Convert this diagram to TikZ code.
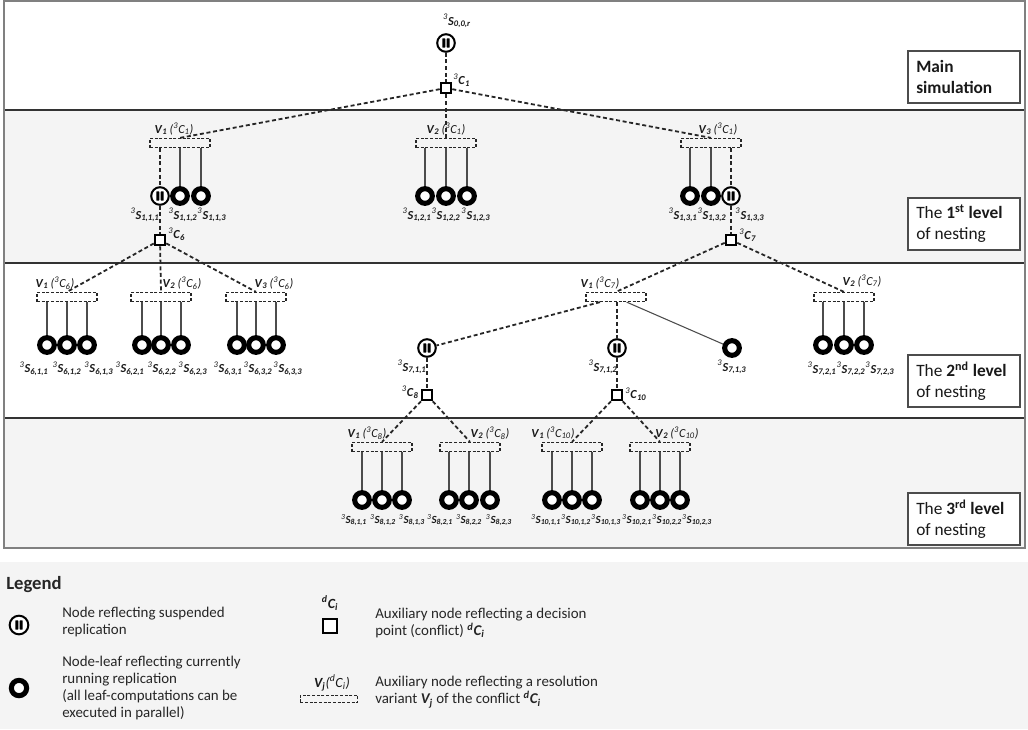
\documentclass[tikz,border=0pt]{standalone}
\usepackage{fontspec}
\setmainfont{Carlito}
\newcommand{\SLab}[1]{\textsuperscript{\itshape 3}\textbf{\textit{S}\textsubscript{\textit{#1}}}}
\newcommand{\CLab}[1]{\textsuperscript{\itshape 3}\textbf{\textit{C}\textsubscript{\textit{#1}}}}
\newcommand{\VLab}[2]{\textbf{\textit{V}\textsubscript{\textit{#1}}}\,\textit{(\textsuperscript{3}C\textsubscript{#2})}}
\begin{document}
\begin{tikzpicture}[x=0.75pt,y=-0.75pt,
  dl/.style={draw=black!85, line width=1.35pt, dash pattern=on 3pt off 2pt},
  sl/.style={draw=black!70, line width=0.8pt},
  leaf/.style={circle, draw=black, fill=white, line width=3.8pt, minimum size=11pt, inner sep=0pt},
  pause/.style={circle, draw=black, fill=white, line width=1.5pt, minimum size=13.2pt, inner sep=0pt,
    path picture={
      \fill[black, rounded corners=0.4pt] ([shift={(-2.8pt,-3.5pt)}]path picture bounding box.center) rectangle ([shift={(-0.5pt,3.5pt)}]path picture bounding box.center);
      \fill[black, rounded corners=0.4pt] ([shift={(0.5pt,-3.5pt)}]path picture bounding box.center) rectangle ([shift={(2.8pt,3.5pt)}]path picture bounding box.center);
    }},
  csq/.style={rectangle, draw=black, fill=white, line width=1.6pt, minimum size=7.8pt, inner sep=0pt},
  vb/.style={rectangle, draw=black!85, line width=0.9pt, dash pattern=on 2.2pt off 1.3pt, minimum width=45pt, minimum height=6.8pt, inner sep=0pt},
  lab/.style={font=\fontsize{9.2}{10}\selectfont, inner sep=0pt, text=black!90},
  slab/.style={font=\fontsize{8.2}{9}\selectfont, inner sep=0pt, text=black!90},
  rbox/.style={rectangle, draw=black!70, fill=white, line width=0.8pt, minimum width=84pt, minimum height=39pt, inner sep=0pt},
  rtext/.style={font=\fontsize{13}{16}\selectfont, align=left, anchor=west, inner sep=0pt, text=black!90},
  legtext/.style={font=\fontsize{11.2}{12.9}\selectfont, align=left, anchor=west, inner sep=0pt, text=black!85}
]
\useasboundingbox (0,0) rectangle (1028,729);
% bands
\fill[gray!9] (4,110) rectangle (1025,263);
\fill[gray!9] (4,418) rectangle (1025,548);
\draw[black!80, line width=1.1pt] (4,110) -- (1025,110);
\draw[black!80, line width=1.1pt] (4,263) -- (1025,263);
\draw[black!80, line width=1.1pt] (4,418) -- (1025,418);
\draw[black!50, line width=1.4pt] (4,1) rectangle (1025,548);

% right labels
\node[rbox] (rb0) at (964,77) {};
\node[rtext] (rt0) at (916,77) {\textbf{Main}\\\textbf{simulation}};
\node[rbox] (rb1) at (964,224) {};
\node[rtext] (rt1) at (916,224) {The \textbf{1\textsuperscript{st} level}\\of nesting};
\node[rbox] (rb2) at (964,381) {};
\node[rtext] (rt2) at (916,381) {The \textbf{2\textsuperscript{nd} level}\\of nesting};
\node[rbox] (rb3) at (964,519) {};
\node[rtext] (rt3) at (916,519) {The \textbf{3\textsuperscript{rd} level}\\of nesting};

% top
\node[pause] (s0) at (446,43) {};
\node[lab] (s0l) at (457,21) {\SLab{0,0,r}};
\node[csq] (c1) at (446,88) {};
\node[lab, anchor=west] (c1l) at (453,80) {\CLab{1}};

% level 1
\node[vb] (v11) at (180,143) {};
\node[lab] (v11l) at (174,129) {\VLab{1}{1}};
\node[vb] (v12) at (446,143) {};
\node[lab] (v12l) at (446,129) {\VLab{2}{1}};
\node[vb] (v13) at (711,143) {};
\node[lab] (v13l) at (718,129) {\VLab{3}{1}};

\node[pause] (s111) at (160,196) {};
\node[leaf] (s112) at (180,196) {};
\node[leaf] (s113) at (201,196) {};
\node[lab] (s111l) at (145,215) {\SLab{1,1,1}};
\node[lab] (s112l) at (183,215) {\SLab{1,1,2}};
\node[lab] (s113l) at (212,215) {\SLab{1,1,3}};

\node[leaf] (s121) at (425,196) {};
\node[leaf] (s122) at (446,196) {};
\node[leaf] (s123) at (467,196) {};
\node[lab] (s121l) at (417,215) {\SLab{1,2,1}};
\node[lab] (s122l) at (446,215) {\SLab{1,2,2}};
\node[lab] (s123l) at (476,215) {\SLab{1,2,3}};

\node[leaf] (s131) at (690,196) {};
\node[leaf] (s132) at (711,196) {};
\node[pause] (s133) at (731,196) {};
\node[lab] (s131l) at (683,215) {\SLab{1,3,1}};
\node[lab] (s132l) at (712,215) {\SLab{1,3,2}};
\node[lab] (s133l) at (750,215) {\SLab{1,3,3}};

\node[csq] (c6) at (160,240) {};
\node[lab, anchor=west] (c6l) at (168,234) {\CLab{6}};
\node[csq] (c7) at (731,240) {};
\node[lab, anchor=west] (c7l) at (739,235) {\CLab{7}};

% level 2
\node[vb] (v61) at (67,297) {};
\node[lab] (v61l) at (55,283) {\VLab{1}{6}};
\node[vb] (v62) at (161,297) {};
\node[lab] (v62l) at (182,283) {\VLab{2}{6}};
\node[vb] (v63) at (256,297) {};
\node[lab] (v63l) at (274,283) {\VLab{3}{6}};
\node[vb] (v71) at (616,297) {};
\node[lab] (v71l) at (600,283) {\VLab{1}{7}};
\node[vb] (v72) at (844,297) {};
\node[lab] (v72l) at (862,281) {\VLab{2}{7}};

\foreach \b/\n/\t/\x/\lx in {v61/611/{6,1,1}/47/34, v61/612/{6,1,2}/67/67, v61/613/{6,1,3}/87/99,
  v62/621/{6,2,1}/142/130, v62/622/{6,2,2}/161/162, v62/623/{6,2,3}/181/193,
  v63/631/{6,3,1}/237/228, v63/632/{6,3,2}/256/258, v63/633/{6,3,3}/276/288,
  v72/721/{7,2,1}/823/822, v72/722/{7,2,2}/844/851, v72/723/{7,2,3}/864/880}{
  \node[leaf] (s\n) at (\x,345) {};
  \node[lab] (s\n l) at (\lx,369) {\SLab{\t}};
  \draw[sl] (\b.south -| s\n) -- (s\n);
}

\node[pause] (s711) at (427,348) {};
\node[pause] (s712) at (617,348) {};
\node[leaf] (s713) at (732,348) {};
\node[lab] (s711l) at (412,367) {\SLab{7,1,1}};
\node[lab] (s712l) at (603,367) {\SLab{7,1,2}};
\node[lab] (s713l) at (732,367) {\SLab{7,1,3}};
\node[csq] (c8) at (427,395) {};
\node[lab, anchor=east] (c8l) at (419,392) {\CLab{8}};
\node[csq] (c10) at (617,395) {};
\node[lab, anchor=west] (c10l) at (625,394) {\CLab{10}};

% level 3
\node[vb] (v81) at (382,447) {};
\node[lab] (v81l) at (367,433) {\VLab{1}{8}};
\node[vb] (v82) at (470,447) {};
\node[lab] (v82l) at (490,433) {\VLab{2}{8}};
\node[vb] (v101) at (572,447) {};
\node[lab] (v101l) at (553,433) {\VLab{1}{10}};
\node[vb] (v102) at (660,447) {};
\node[lab] (v102l) at (677,433) {\VLab{2}{10}};

% connectors
\draw[dl] (s0) -- (c1);
\draw[dl] (c1) -- (v11.north);
\draw[dl] (c1) -- (v12.north);
\draw[dl] (c1) -- (v13.north);
\draw[dl] (v11.south -| s111) -- (s111);
\draw[sl] (v11.south -| s112) -- (s112);
\draw[sl] (v11.south -| s113) -- (s113);
\draw[sl] (v12.south -| s121) -- (s121);
\draw[sl] (v12.south -| s122) -- (s122);
\draw[sl] (v12.south -| s123) -- (s123);
\draw[sl] (v13.south -| s131) -- (s131);
\draw[sl] (v13.south -| s132) -- (s132);
\draw[dl] (v13.south -| s133) -- (s133);
\draw[dl] (s111) -- (c6);
\draw[dl] (s133) -- (c7);
\draw[dl] (c6) -- (v61.north);
\draw[dl] (c6) -- (v62.north);
\draw[dl] (c6) -- (v63.north);
\draw[dl] (c7) -- (v71.north);
\draw[dl] (c7) -- (v72.north);
\draw[dl] ([xshift=-12pt]v71.south) -- (s711);
\draw[dl] (v71.south -| s712) -- (s712);
\draw[sl] ([xshift=8pt]v71.south) -- (s713);
\draw[dl] (s711) -- (c8);
\draw[dl] (s712) -- (c10);
\draw[dl] (c8) -- (v81.north);
\draw[dl] (c8) -- (v82.north);
\draw[dl] (c10) -- (v101.north);
\draw[dl] (c10) -- (v102.north);

\foreach \b/\n/\t/\x/\lx in {v81/811/{8,1,1}/362/354, v81/812/{8,1,2}/382/383, v81/813/{8,1,3}/402/412,
  v82/821/{8,2,1}/449/440, v82/822/{8,2,2}/469/469, v82/823/{8,2,3}/490/499,
  v101/1011/{10,1,1}/552/546, v101/1012/{10,1,2}/572/576, v101/1013/{10,1,3}/592/606,
  v102/1021/{10,2,1}/640/637, v102/1022/{10,2,2}/660/667, v102/1023/{10,2,3}/680/697}{
  \node[leaf] (s\n) at (\x,500) {};
  \node[slab] (s\n l) at (\lx,520) {\SLab{\t}};
  \draw[sl] (\b.south -| s\n) -- (s\n);
}

% legend
\fill[gray!9] (0,562) rectangle (1028,729);
\node[font=\fontsize{14}{16}\selectfont\bfseries, anchor=west, inner sep=0pt, text=black!85] (legh) at (6,585) {Legend};
\node[pause, minimum size=14pt] (lp) at (19,625) {};
\node[leaf, minimum size=11.5pt] (ll) at (19,688) {};
\node[legtext] (lpt) at (62,622) {Node reflecting suspended\\replication};
\node[legtext] (llt) at (62,688) {Node-leaf reflecting currently\\running replication\\(all leaf-computations can be\\executed in parallel)};
\node[lab, font=\fontsize{10.5}{11}\selectfont] (lcl) at (330,603) {\textbf{\textit{\textsuperscript{d}C\textsubscript{i}}}};
\node[csq, minimum size=10pt] (lc) at (330,626) {};
\node[legtext] (lct) at (375,623) {Auxiliary node reflecting a decision\\point (conflict) \textbf{\textit{\textsuperscript{d}C\textsubscript{i}}}};
\node[lab, font=\fontsize{10.5}{11}\selectfont] (lvl) at (332,683) {\textbf{\textit{V\textsubscript{j}}}\textit{(\textsuperscript{d}C\textsubscript{i})}};
\node[vb, minimum width=43pt, minimum height=5.5pt] (lv) at (329,699) {};
\node[legtext] (lvt) at (375,692) {Auxiliary node reflecting a resolution\\variant \textbf{\textit{V\textsubscript{j}}} of the conflict \textbf{\textit{\textsuperscript{d}C\textsubscript{i}}}};
\end{tikzpicture}
\end{document}
